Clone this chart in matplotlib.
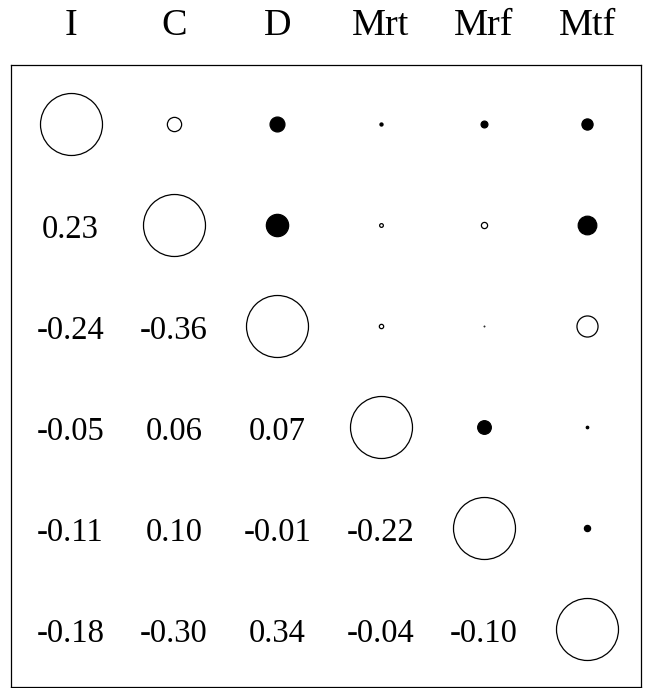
import numpy as np
import matplotlib.pyplot as plt

# variable names and correlation matrix (lower triangle shown as text)
labels = ['I', 'C', 'D', 'Mrt', 'Mrf', 'Mtf']
corr = np.array([
    [1.00, 0.23, -0.24, -0.05, -0.11, -0.18],
    [0.23, 1.00, -0.36, 0.06, 0.10, -0.30],
    [-0.24, -0.36, 1.00, 0.07, -0.01, 0.34],
    [-0.05, 0.06, 0.07, 1.00, -0.22, -0.04],
    [-0.11, 0.10, -0.01, -0.22, 1.00, -0.10],
    [-0.18, -0.30, 0.34, -0.04, -0.10, 1.00],
])

plt.rcParams['font.family'] = ['Liberation Serif', 'DejaVu Serif']

fig = plt.figure(figsize=(6.47, 6.88), dpi=100)
ax = fig.add_axes([11 / 647, 1 - 687 / 688, 630 / 647, 622 / 688])

n = len(labels)
max_d = 62 * 72 / 100  # circle diameter in points for |r| = 1

for i in range(n):
    for j in range(n):
        r = corr[i, j]
        if j >= i:
            d = abs(r) * max_d
            face = 'black' if r < 0 else 'white'
            ax.scatter(j, i, s=d ** 2, facecolor=face, edgecolor='black',
                       linewidth=0.9, zorder=3)
        else:
            ax.text(j, i + 0.129, f'{r:.2f}', ha='center', va='baseline',
                    fontsize=23.5)

ax.set_xlim(-0.576, 5.52)
ax.set_ylim(5.57, -0.584)
ax.set_xticks([])
ax.set_yticks([])
for sp in ax.spines.values():
    sp.set_linewidth(0.9)

for j, lab in enumerate(labels):
    ax.text(j, -0.881, lab, ha='center', va='baseline', fontsize=27.5,
            clip_on=False)

fig.savefig('out.png', dpi=100)
